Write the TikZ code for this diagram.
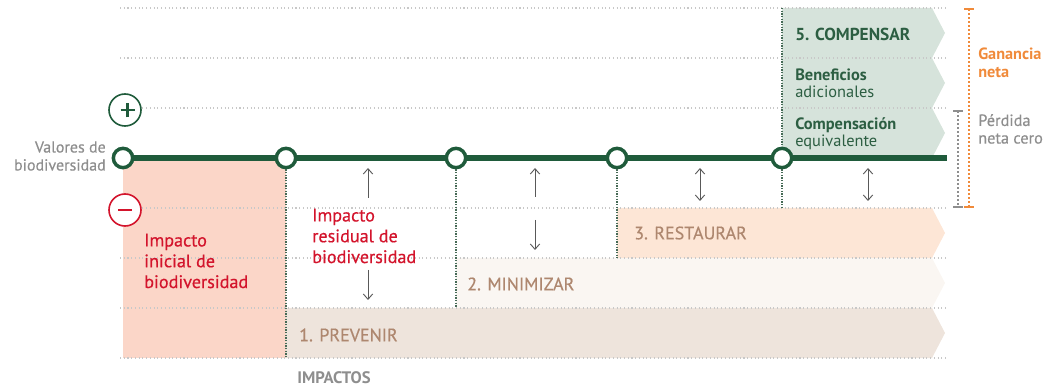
\documentclass[tikz,border=0pt]{standalone}
\usepackage{fontspec}
\setmainfont{PT Sans}
\newfontfamily\medfont[FakeBold=0.45]{PT Sans}
\usetikzlibrary{arrows.meta}

\definecolor{dkgreen}{HTML}{1F5B3B}
\definecolor{txtgreen}{HTML}{2C5E42}
\definecolor{bandgreen}{HTML}{D6E3DB}
\definecolor{salmon}{HTML}{FBD6C8}
\definecolor{restfill}{HTML}{FDE6D6}
\definecolor{minifill}{HTML}{FAF6F2}
\definecolor{prevfill}{HTML}{EEE4DC}
\definecolor{bandtext}{HTML}{AE876F}
\definecolor{impred}{HTML}{D3142C}
\definecolor{netorange}{HTML}{F08A3A}
\definecolor{softgray}{HTML}{8E8E8E}
\definecolor{gridgray}{HTML}{C8C8C8}

\tikzset{
	milestone/.style={circle, draw=dkgreen, fill=white, line width=2.6pt, minimum size=14.5pt, inner sep=0pt},
	signcircle/.style={circle, fill=white, line width=1.2pt, minimum size=24pt, inner sep=0pt},
	gridline/.style={gridgray, dotted, line width=0.8pt},
	stepline/.style={dkgreen!60!gray, densely dotted, line width=1pt},
	shiftarrow/.style={black!65, line width=0.7pt, >={Straight Barb[length=4pt,width=7pt]}},
	bandlabel/.style={anchor=west, inner sep=0pt, text=bandtext, font=\medfont\fontsize{13.5}{16}\selectfont},
	greenlabel/.style={anchor=west, inner sep=0pt, text=txtgreen, align=left, font=\fontsize{12.3}{13}\selectfont},
	redlabel/.style={anchor=west, inner sep=0pt, text=impred, align=left, font=\medfont\fontsize{13.6}{15.6}\selectfont},
	sidelabel/.style={anchor=west, inner sep=0pt, align=left, font=\fontsize{12.2}{13.2}\selectfont},
	bracket/.style={dotted, line width=1pt, {Bar[width=7pt,line width=1.2pt]}-{Bar[width=7pt,line width=1.2pt]}}
}

\newcommand{\plusmark}{\rule[-1.1pt]{11pt}{2.2pt}\hspace{-6.6pt}\rule[-5.5pt]{2.2pt}{11pt}\hspace{4.4pt}}
\newcommand{\minusmark}{\rule[-1.1pt]{10pt}{2.2pt}}

\begin{document}
\begin{tikzpicture}[x=0.75pt, y=-0.75pt]
			    \useasboundingbox (0, 0) rectangle (1046, 388);
			    
			    \fill [salmon] (123, 158) rectangle (286, 358);
			    \fill [prevfill] (286, 308) -- (932, 308) -- (945, 333) -- (932, 358) -- (286, 358) -- cycle;
			    \fill [minifill] (456, 258) -- (932, 258) -- (945, 283) -- (932, 308) -- (456, 308) -- cycle;
			    \fill [restfill] (617, 208) -- (932, 208) -- (945, 233) -- (932, 258) -- (617, 258) -- cycle;
			    \fill [bandgreen] (782, 8) -- (932, 8) -- (945, 33) -- (932, 58) -- (782, 58) -- cycle;
			    \fill [bandgreen] (782, 58) -- (932, 58) -- (945, 83) -- (932, 108) -- (782, 108) -- cycle;
			    \fill [bandgreen] (782, 108) -- (932, 108) -- (945, 133) -- (932, 158) -- (782, 158) -- cycle;
			    
			    \foreach \y in {8, 58, 108, 208, 258, 308, 358} {
			        \draw [gridline] (120, \y) -- (948, \y);
			    }
			    
			    \node [signcircle, draw=dkgreen, text=dkgreen] at (125, 110) (plus) {\plusmark};
			    \node [signcircle, draw=impred, text=impred] at (125, 210) (minus) {\minusmark};
			    
			    \node [milestone] at (123, 158) (m0) {};
			    \node [milestone] at (286, 158) (m1) {};
			    \node [milestone] at (456, 158) (m2) {};
			    \node [milestone] at (617, 158) (m3) {};
			    \node [milestone] at (782, 158) (m4) {};
			    \coordinate (lineend) at (947, 158);
			    
			    \coordinate (s1) at (286, 358);
			    \coordinate (s2) at (456, 308);
			    \coordinate (s3) at (617, 258);
			    \coordinate (s4top) at (782, 8);
			    \coordinate (s4) at (782, 208);
			    \draw [stepline] (m1) -- (s1);
			    \draw [stepline] (m2) -- (s2);
			    \draw [stepline] (m3) -- (s3);
			    \draw [stepline] (s4top) -- (m4);
			    \draw [stepline] (m4) -- (s4);
			    
			    \draw [dkgreen, line width=4pt] (m0) -- (m1) -- (m2) -- (m3) -- (m4) -- (lineend);
			    
			    \node [anchor=east, inner sep=0pt, align=right, text=softgray, font=\medfont\fontsize{12}{13.5}\selectfont] at (106, 156) (valores) {Valores de\\biodiversidad};
			    
			    \node [redlabel] at (144, 261) (inicial) {Impacto\\inicial de\\biodiversidad};
			    \node [redlabel] at (312, 236) (residual) {Impacto\\residual de\\biodiversidad};
			    
			    \node [bandlabel] at (299, 335) (prevenir) {1. PREVENIR};
			    \node [bandlabel] at (467, 284) (minimizar) {2. MINIMIZAR};
			    \node [bandlabel] at (634, 233) (restaurar) {3. RESTAURAR};
			    
			    \node [greenlabel, font=\fontsize{13}{14}\selectfont\bfseries] at (795, 34) (compensar) {5. COMPENSAR};
			    \node [greenlabel] at (795, 83) (beneficios) {\textbf{Beneficios}\\adicionales};
			    \node [greenlabel] at (795, 134) (equivalente) {\textbf{Compensación}\\equivalente};
			    
			    \coordinate (ra1) at (368, 198);
			    \coordinate (ra2) at (368, 168);
			    \coordinate (ra3) at (368, 270);
			    \coordinate (ra4) at (368, 300);
			    \draw [shiftarrow, ->] (ra1) -- (ra2);
			    \draw [shiftarrow, ->] (ra3) -- (ra4);
			    
			    \coordinate (ma1) at (535, 197);
			    \coordinate (ma2) at (535, 168);
			    \coordinate (ma3) at (535, 220);
			    \coordinate (ma4) at (535, 250);
			    \draw [shiftarrow, ->] (ma1) -- (ma2);
			    \draw [shiftarrow, ->] (ma3) -- (ma4);
			    
			    \coordinate (da1) at (700, 168);
			    \coordinate (da2) at (700, 201);
			    \draw [shiftarrow, <->] (da1) -- (da2);
			    \coordinate (db1) at (868, 168);
			    \coordinate (db2) at (868, 201);
			    \draw [shiftarrow, <->] (db1) -- (db2);
			    
			    \coordinate (gtop) at (969, 8);
			    \coordinate (gbot) at (969, 208);
			    \draw [bracket, netorange] (gtop) -- (gbot);
			    \coordinate (ptop) at (958, 110);
			    \coordinate (pbot) at (958, 208);
			    \draw [bracket, softgray] (ptop) -- (pbot);
			    
			    \node [sidelabel, text=netorange, font=\fontsize{12.2}{13.2}\selectfont\bfseries] at (978, 63) (ganancia) {Ganancia\\neta};
			    \node [sidelabel, text=softgray, font=\medfont\fontsize{12.2}{13.2}\selectfont] at (978, 129) (perdida) {Pérdida\\neta cero};
			    
			    \node [anchor=west, inner sep=0pt, text=softgray, font=\fontsize{12.5}{14}\selectfont\bfseries] at (297, 378) (impactos) {IMPACTOS};
		    \end{tikzpicture}
\end{document}
